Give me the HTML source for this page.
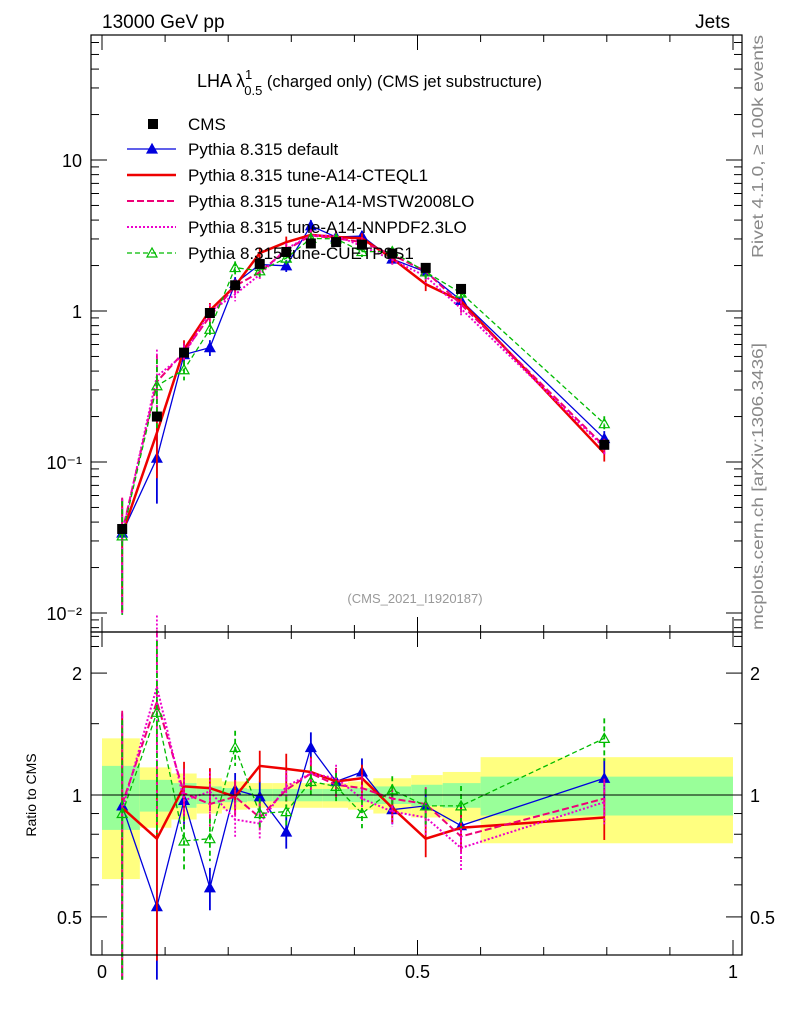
<!DOCTYPE html>
<html><head><meta charset="utf-8"><style>
body{margin:0;background:#fff;}
svg text{font-family:"Liberation Sans",sans-serif;}
</style></head><body>
<svg id="c" width="786" height="1024" xmlns="http://www.w3.org/2000/svg">
<text x="102" y="28" font-size="19">13000 GeV pp</text>
<text x="730" y="28" font-size="19" text-anchor="end">Jets</text>
<text x="197" y="87" font-size="18">LHA λ<tspan font-size="13" dy="-8">1</tspan><tspan font-size="13" dx="-8" dy="16">0.5</tspan><tspan dy="-8" font-size="16.5"> (charged only) (CMS jet substructure)</tspan></text>
<text x="415" y="603" font-size="13" fill="#999" text-anchor="middle">(CMS_2021_I1920187)</text>
<text transform="translate(763,258) rotate(-90)" font-size="16" fill="#888" textLength="223" lengthAdjust="spacingAndGlyphs">Rivet 4.1.0, ≥ 100k events</text>
<text transform="translate(763,630) rotate(-90)" font-size="16" fill="#888" textLength="287" lengthAdjust="spacingAndGlyphs">mcplots.cern.ch [arXiv:1306.3436]</text>
<text transform="translate(36,795) rotate(-90)" font-size="14" text-anchor="middle">Ratio to CMS</text>
<g id="bands"></g><g id="ticks"></g><g id="series"></g>
<rect x="91" y="35" width="651" height="597" fill="none" stroke="#000" stroke-width="1.2"/>
<rect x="91" y="632" width="651" height="323" fill="none" stroke="#000" stroke-width="1.2"/>
<line x1="91" x2="742" y1="795" y2="795" stroke="#000"/>
<g id="legend"></g>
</svg>
<script>
const xVals=[0.032,0.087,0.13,0.171,0.211,0.25,0.292,0.331,0.371,0.412,0.46,0.513,0.569,0.796];
const binEdges=[0,0.06,0.11,0.15,0.19,0.23,0.27,0.31,0.35,0.39,0.43,0.49,0.54,0.6,1.0];
const cmsVals=[0.036,0.2,0.53,0.97,1.48,2.05,2.46,2.8,2.86,2.75,2.4,1.93,1.4,0.13];
const statBand=[0.18,0.09,0.07,0.05,0.04,0.035,0.035,0.035,0.035,0.04,0.05,0.06,0.07,0.11];
const totBand=[0.38,0.17,0.13,0.1,0.08,0.07,0.07,0.07,0.07,0.08,0.1,0.12,0.14,0.24];
const rDefault=[0.94,0.53,0.97,0.59,1.03,0.99,0.81,1.31,1.08,1.14,0.92,0.94,0.84,1.10];
const rCTEQ=[0.93,0.78,1.05,1.04,0.99,1.18,1.16,1.14,1.08,1.10,0.93,0.78,0.83,0.88];
const rMSTW=[0.95,1.7,1.01,0.95,0.99,0.88,1.03,1.13,1.06,1.04,0.98,0.95,0.79,0.98];
const rNNPDF=[0.92,1.85,0.97,1.02,0.87,0.85,1.05,1.13,1.10,0.98,0.91,0.88,0.74,0.96];
const rCUETP=[0.90,1.60,0.77,0.78,1.31,0.90,0.91,1.08,1.05,0.90,1.03,0.94,0.94,1.38];
const rErr=[0.7,0.5,0.15,0.12,0.1,0.09,0.09,0.09,0.08,0.08,0.08,0.1,0.12,0.12];
const yTicksMain=[0.01,0.1,1,10];
const yTickLabels=["10⁻²","10⁻¹","1","10"];
const ratioTicks=[0.5,1,2];
const xTicks=[0,0.5,1];

const NS="http://www.w3.org/2000/svg";
const X=v=>102+631*v;
const Y=v=>311-151*Math.log10(v);
const R=v=>795-405*Math.log10(Math.max(v,0.35));
function mk(p,tag,a){const e=document.createElementNS(NS,tag);for(const k in a)e.setAttribute(k,a[k]);document.getElementById(p).appendChild(e);return e;}

binEdges.slice(0,-1).forEach((e0,i)=>{
 const x0=X(e0),x1=X(binEdges[i+1]);
 let r=mk('bands','rect',{x:x0,y:R(1+totBand[i]),width:x1-x0,height:R(1-totBand[i])-R(1+totBand[i]),fill:'#ffff80'});
 
 
 r=mk('bands','rect',{x:x0,y:R(1+statBand[i]),width:x1-x0,height:R(1-statBand[i])-R(1+statBand[i]),fill:'#99ff99'});
 
 
});
const T='ticks';
xTicks.forEach((v,i)=>{
 mk(T,'line',{x1:X(v),x2:X(v),y1:955,y2:940,stroke:'#000'});
 mk(T,'line',{x1:X(v),x2:X(v),y1:632,y2:617,stroke:'#000'});
 mk(T,'line',{x1:X(v),x2:X(v),y1:632,y2:647,stroke:'#000'});
 mk(T,'line',{x1:X(v),x2:X(v),y1:35,y2:50,stroke:'#000'});
 const t=mk(T,'text',{x:X(v),y:978,'font-size':18,'text-anchor':'middle'});t.textContent=String(v);
 
 
});
for(let v=0.1;v<1;v+=0.1){ if(Math.abs(v-0.5)<1e-6)continue;
 [[955,947],[632,625],[632,639],[35,42]].forEach(([a,b])=>mk(T,'line',{x1:X(v),x2:X(v),y1:a,y2:b,stroke:'#000'}));}
yTicksMain.forEach((v,i)=>{
 mk(T,'line',{x1:91,x2:107,y1:Y(v),y2:Y(v),stroke:'#000'});
 mk(T,'line',{x1:742,x2:726,y1:Y(v),y2:Y(v),stroke:'#000'});
 const t=mk(T,'text',{x:82,y:Y(v)+7,'font-size':18,'text-anchor':'end'});t.textContent=yTickLabels[i];
 
 
 for(let k=2;k<10;k++){const yy=Y(v*k);if(yy<36)continue;
  mk(T,'line',{x1:91,x2:99,y1:yy,y2:yy,stroke:'#000'});mk(T,'line',{x1:742,x2:734,y1:yy,y2:yy,stroke:'#000'});}
});
for(let k=6;k<10;k++){const yy=Y(k/1000);mk(T,'line',{x1:91,x2:99,y1:yy,y2:yy,stroke:'#000'});mk(T,'line',{x1:742,x2:734,y1:yy,y2:yy,stroke:'#000'});}
ratioTicks.forEach(v=>{
 mk(T,'line',{x1:91,x2:107,y1:R(v),y2:R(v),stroke:'#000'});mk(T,'line',{x1:742,x2:726,y1:R(v),y2:R(v),stroke:'#000'});
 let t=mk(T,'text',{x:82,y:R(v)+7,'font-size':18,'text-anchor':'end'});t.textContent=String(v);
 
 
 t=mk(T,'text',{x:750,y:R(v)+7,'font-size':18});t.textContent=String(v);
 
 
});
[0.6,0.7,0.8,0.9,1.5].forEach(v=>{mk(T,'line',{x1:91,x2:99,y1:R(v),y2:R(v),stroke:'#000'});mk(T,'line',{x1:742,x2:734,y1:R(v),y2:R(v),stroke:'#000'});});

const series=[
 {r:rDefault,c:'#0000dd',dash:'',w:1.3,m:'tri',name:'Pythia 8.315 default',id:'pythia-default'},
 {r:rCTEQ,c:'#ee0000',dash:'',w:2.5,m:'',name:'Pythia 8.315 tune-A14-CTEQL1',id:'pythia-a14-cteql1'},
 {r:rMSTW,c:'#ee0077',dash:'7,3',w:2,m:'',name:'Pythia 8.315 tune-A14-MSTW2008LO',id:'pythia-a14-mstw2008lo'},
 {r:rNNPDF,c:'#ee00cc',dash:'2,2',w:2,m:'',name:'Pythia 8.315 tune-A14-NNPDF2.3LO',id:'pythia-a14-nnpdf23lo'},
 {r:rCUETP,c:'#00bb00',dash:'5,3',w:1.3,m:'otri',name:'Pythia 8.315 tune-CUETP8S1',id:'pythia-cuetp8s1'}];
function tri(g,x,y,c,open){return mk(g,'polygon',{points:`${x},${y-5} ${x-5},${y+4} ${x+5},${y+4}`,fill:open?'none':c,stroke:c,'stroke-width':1.2});}
series.forEach((s,si)=>{
 const g=mk('series','g',{});g.setAttribute('id','s'+si);
 
 
 const mainPts=xVals.map((x,i)=>X(x)+','+Y(cmsVals[i]*s.r[i])).join(' ');
 const ratPts=xVals.map((x,i)=>X(x)+','+R(s.r[i])).join(' ');
 let l=mk('s'+si,'polyline',{points:mainPts,fill:'none',stroke:s.c,'stroke-width':s.w,'stroke-dasharray':s.dash});
 
 
 l=mk('s'+si,'polyline',{points:ratPts,fill:'none',stroke:s.c,'stroke-width':s.w,'stroke-dasharray':s.dash});
 
 
 xVals.forEach((x,i)=>{
  const v=cmsVals[i]*s.r[i],e=rErr[i];
  mk('s'+si,'line',{x1:X(x),x2:X(x),y1:Y(v*(1+e)),y2:Y(v*Math.max(1-e,0.3)),stroke:s.c,'stroke-width':1.8,'stroke-dasharray':s.dash});
  mk('s'+si,'line',{x1:X(x),x2:X(x),y1:R(s.r[i]*(1+e)),y2:R(s.r[i]*Math.max(1-e,0.3)),stroke:s.c,'stroke-width':1.8,'stroke-dasharray':s.dash});
  if(s.m){tri('s'+si,X(x),Y(v),s.c,s.m==='otri');tri('s'+si,X(x),R(s.r[i]),s.c,s.m==='otri');}
 });
});
xVals.forEach((x,i)=>{
 const p=mk('series','rect',{x:X(x)-5,y:Y(cmsVals[i])-5,width:10,height:10,fill:'#000'});
 
 
});
const ly=[124,149,175,201,227,253];
let lg=mk('legend','rect',{x:148,y:ly[0]-5,width:10,height:10,fill:'#000'});


let lt=mk('legend','text',{x:188,y:ly[0]+6,'font-size':17});lt.textContent='CMS';


series.forEach((s,i)=>{
 const y=ly[i+1];
 mk('legend','line',{x1:127,x2:176,y1:y,y2:y,stroke:s.c,'stroke-width':s.w,'stroke-dasharray':s.dash});
 if(s.m)tri('legend',152,y,s.c,s.m==='otri');
 const t=mk('legend','text',{x:188,y:y+6,'font-size':17});t.textContent=s.name;
 
 
});
</script>
</body></html>
